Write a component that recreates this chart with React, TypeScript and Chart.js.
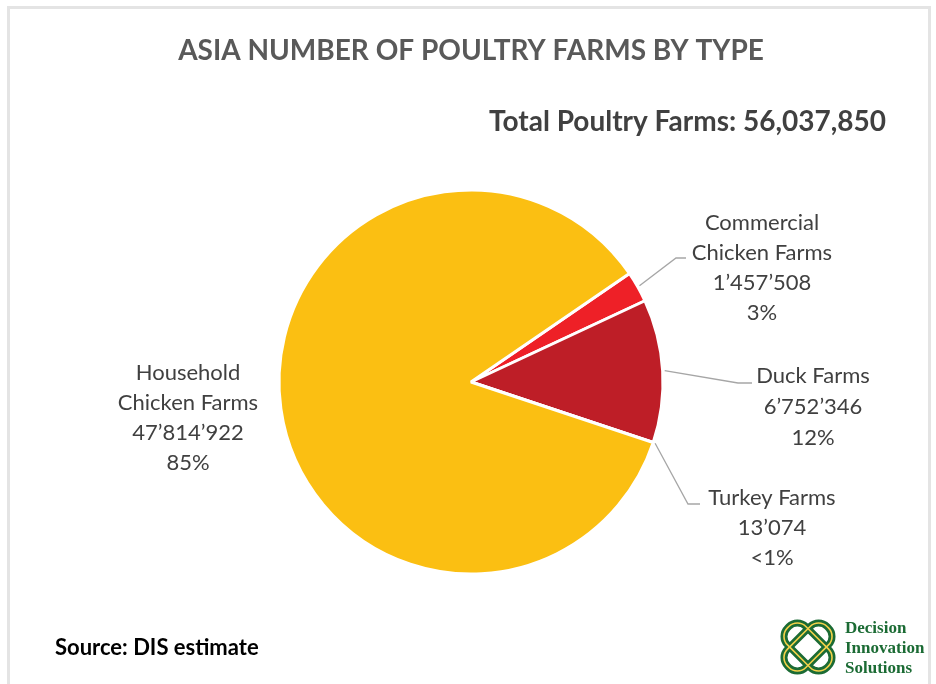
import React, { useEffect, useRef } from 'react';
import { Chart, registerables } from 'chart.js';

Chart.register(...registerables);

// ---- data ----
const categories = ['Commercial Chicken Farms', 'Duck Farms', 'Turkey Farms', 'Household Chicken Farms'];
const labelNameLines = [['Commercial', 'Chicken Farms'], ['Duck Farms'], ['Turkey Farms'], ['Household', 'Chicken Farms']];
const farmCounts = [1457508, 6752346, 13074, 47814922];
const sliceColors = ['#EE2027', '#BE1E27', '#A5A5A5', '#FBBF12'];

const titleText = 'ASIA NUMBER OF POULTRY FARMS BY TYPE';
const totalText = 'Total Poultry Farms: 56,037,850';
const sourceText = 'Source: DIS estimate';
const logoWords = ['Decision', 'Innovation', 'Solutions'];

// ---- layout (text placement only) ----
const labelLayout = [
  { cx: 762, baseline: 230, step: 30, elbow: [676, 258], end: [686, 258] },
  { cx: 813, baseline: 383, step: 31, elbow: [738, 383], end: [752, 383] },
  { cx: 772, baseline: 505, step: 30, elbow: [688, 504], end: [700, 504] },
  { cx: 188, baseline: 380, step: 30, elbow: null, end: null },
];

const fmt = (v: number) => Math.round(v).toLocaleString('en-US').replace(/,/g, '\u2019');
const pct = (v: number, total: number) => {
  const p = (v / total) * 100;
  return p < 1 ? '<1%' : Math.round(p) + '%';
};

const decorPlugin = {
  id: 'decor',
  beforeDraw(chart: any) {
    const ctx = chart.ctx as CanvasRenderingContext2D;
    ctx.save();
    ctx.fillStyle = '#FFFFFF';
    ctx.fillRect(0, 0, chart.width, chart.height);
    ctx.strokeStyle = '#E4E4E4';
    ctx.lineWidth = 3;
    ctx.strokeRect(8.5, 7.5, 921, 700);
    ctx.restore();
  },
  afterDraw(chart: any) {
    const ctx = chart.ctx as CanvasRenderingContext2D;
    const meta = chart.getDatasetMeta(0);
    const total = farmCounts.reduce((a, b) => a + b, 0);
    ctx.save();

    // title
    ctx.fillStyle = '#595959';
    ctx.font = 'bold 28px Lato';
    ctx.textAlign = 'center';
    ctx.textBaseline = 'alphabetic';
    ctx.fillText(titleText, 471, 60);

    // total
    ctx.fillStyle = '#404040';
    ctx.font = 'bold 28px Lato';
    ctx.textAlign = 'right';
    ctx.fillText(totalText, 886, 131);

    // source
    ctx.fillStyle = '#000000';
    ctx.font = 'bold 22px Lato';
    ctx.textAlign = 'left';
    ctx.fillText(sourceText, 55, 655);

    // leader lines + labels
    meta.data.forEach((arc: any, i: number) => {
      const lay = labelLayout[i];
      if (lay.elbow && lay.end) {
        const mid = (arc.startAngle + arc.endAngle) / 2;
        const r = arc.outerRadius + 2;
        ctx.strokeStyle = '#A6A6A6';
        ctx.lineWidth = 1.3;
        ctx.beginPath();
        ctx.moveTo(arc.x + Math.cos(mid) * r, arc.y + Math.sin(mid) * r);
        ctx.lineTo(lay.elbow[0], lay.elbow[1]);
        ctx.lineTo(lay.end[0], lay.end[1]);
        ctx.stroke();
      }
      const lines = [...labelNameLines[i], fmt(farmCounts[i]), pct(farmCounts[i], total)];
      ctx.fillStyle = '#404040';
      ctx.font = '22px Lato';
      ctx.textAlign = 'center';
      lines.forEach((t, k) => ctx.fillText(t, lay.cx, lay.baseline + k * lay.step));
    });

    // logo knot
    const lx = 808, ly = 647;
    const loop = (rot: number, color: string, w: number) => {
      ctx.save();
      ctx.translate(lx, ly);
      ctx.rotate(rot);
      ctx.strokeStyle = color;
      ctx.lineWidth = w;
      ctx.beginPath();
      (ctx as any).roundRect(-28, -13, 56, 26, 12);
      ctx.stroke();
      ctx.restore();
    };
    loop(Math.PI / 4, '#1B6B34', 7);
    loop(-Math.PI / 4, '#1B6B34', 7);
    loop(Math.PI / 4, '#F2D14A', 1.6);
    loop(-Math.PI / 4, '#F2D14A', 1.6);

    ctx.fillStyle = '#1B6B34';
    ctx.font = 'bold 17px "Liberation Serif"';
    ctx.textAlign = 'left';
    logoWords.forEach((w, k) => ctx.fillText(w, 845, 633 + k * 20));

    ctx.restore();
  },
};

export default function App() {
  const ref = useRef<HTMLCanvasElement | null>(null);
  useEffect(() => {
    if (!ref.current) return;
    const chart = new Chart(ref.current, {
      type: 'pie',
      data: {
        labels: categories,
        datasets: [
          {
            data: farmCounts,
            backgroundColor: sliceColors,
            borderColor: '#FFFFFF',
            borderWidth: 3,
          },
        ],
      },
      options: {
        responsive: false,
        animation: false,
        rotation: 55.6,
        radius: 192,
        layout: { padding: { left: 200, right: 194, top: 180, bottom: 100 } },
        plugins: {
          legend: { display: false },
          tooltip: { enabled: false },
          title: { display: false },
        },
      },
      plugins: [decorPlugin],
    });
    return () => chart.destroy();
  }, []);
  return (
    <div style={{ position: 'fixed', left: 0, top: 0, width: 936, height: 684, background: '#fff' }}>
      <canvas ref={ref} width={936} height={684} style={{ display: 'block', width: 936, height: 684 }} />
    </div>
  );
}
